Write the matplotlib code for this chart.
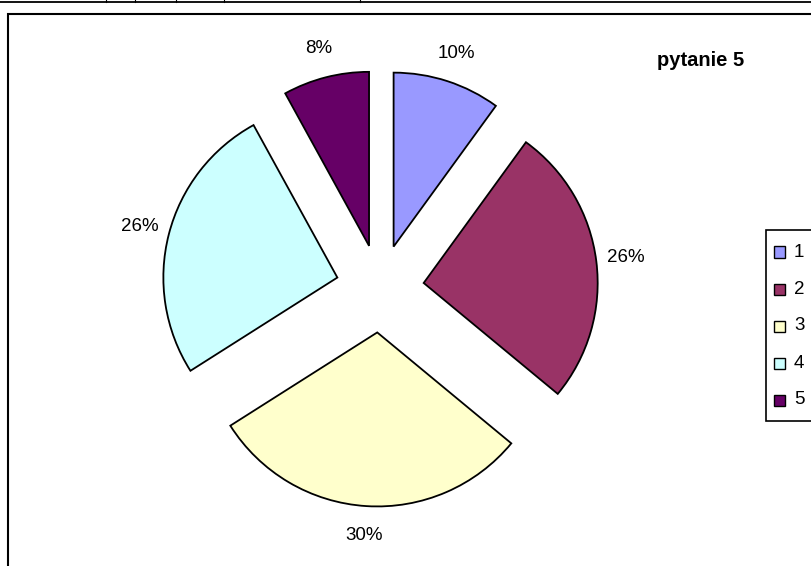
import matplotlib
matplotlib.use("Agg")
import matplotlib.pyplot as plt
from matplotlib.patches import Rectangle
from matplotlib.lines import Line2D

# ---- data ----
categories = ["1", "2", "3", "4", "5"]
values = [10, 26, 30, 26, 8]
colors = ["#9999FF", "#993366", "#FFFFCC", "#CCFFFF", "#660066"]
title = "pytanie 5"

W, H = 812, 566
DPI = 100
plt.rcParams['font.family'] = ['Liberation Sans', 'DejaVu Sans']

fig = plt.figure(figsize=(W / DPI, H / DPI), dpi=DPI)
fig.patch.set_facecolor("white")

def fx(x):
    return x / W

def fy(y):
    return 1 - y / H

# pie axes covering the figure, 1 data unit = R pixels
cx, cy, R = 380.0, 288.5, 174.0
ax = fig.add_axes([0, 0, 1, 1])
ax.set_aspect("equal")
ax.axis("off")

explode = [0.253] * len(values)
wedges, texts, autotexts = ax.pie(
    values, colors=colors, explode=explode, startangle=90, counterclock=False,
    radius=1.0, center=(0, 0), autopct="%1.0f%%", pctdistance=1.17,
    wedgeprops=dict(edgecolor="black", linewidth=1.3),
    textprops=dict(fontsize=13.5, color="black"), frame=False)
ax.set_xlim(-cx / R, (W - cx) / R)
ax.set_ylim(-(H - cy) / R, cy / R)

# title
fig.text(fx(701), fy(60), title, ha="center", va="center",
         fontsize=14.5, fontweight="bold")

# outer frame of the chart (extends past right and bottom edges)
fig.patches.append(Rectangle((fx(7.5), fy(H + 20)), fx(W + 20) - fx(7.5), fy(13.5) - fy(H + 20),
                             transform=fig.transFigure, fill=False,
                             edgecolor="black", linewidth=1.5, zorder=5))

# top cell border line with small ticks
fig.lines.append(Line2D([0, 1], [fy(2), fy(2)], transform=fig.transFigure,
                        color="black", linewidth=1.3))
for tx in [106, 135, 176, 224, 360]:
    fig.lines.append(Line2D([fx(tx), fx(tx)], [fy(0), fy(2)], transform=fig.transFigure,
                            color="black", linewidth=0.8))

# legend box
lx0, ly0, ly1 = 766, 230, 421
fig.patches.append(Rectangle((fx(lx0), fy(ly1)), fx(W + 20) - fx(lx0), fy(ly0) - fy(ly1),
                             transform=fig.transFigure, facecolor="white",
                             edgecolor="black", linewidth=1.2, zorder=6))
row0, step = 252, 37
sq = 11
for i, (lab, col) in enumerate(zip(categories, colors)):
    yc = row0 + i * step
    fig.patches.append(Rectangle((fx(774), fy(yc + sq / 2)), sq / W, sq / H,
                                 transform=fig.transFigure, facecolor=col,
                                 edgecolor="black", linewidth=1.0, zorder=7))
    fig.text(fx(794), fy(yc), lab, ha="left", va="center", fontsize=13.5, zorder=8)

fig.savefig("out.png", dpi=DPI)
